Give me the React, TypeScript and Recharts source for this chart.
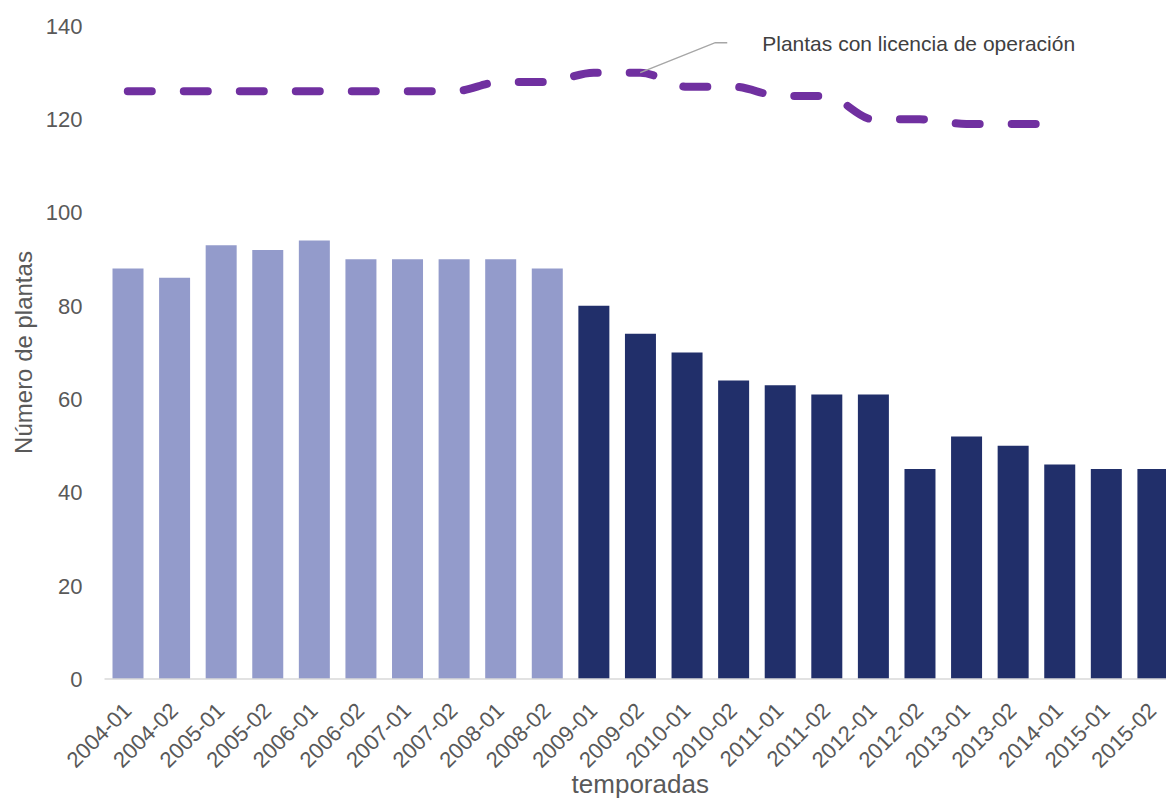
import { ComposedChart, Bar, Line, XAxis, YAxis, Cell, Label, LabelList } from 'recharts';

const SEASONS = [
  '2004-01', '2004-02', '2005-01', '2005-02', '2006-01', '2006-02', '2007-01', '2007-02',
  '2008-01', '2008-02', '2009-01', '2009-02', '2010-01', '2010-02', '2011-01', '2011-02',
  '2012-01', '2012-02', '2013-01', '2013-02', '2014-01', '2015-01', '2015-02',
];
const PLANTS = [88, 86, 93, 92, 94, 90, 90, 90, 90, 88, 80, 74, 70, 64, 63, 61, 61, 45, 52, 50, 46, 45, 45];
const LICENSED = [126, 126, 126, 126, 126, 126, 126, 126, 128, 128, 130, 130, 127, 127, 125, 125, 120, 120, 119, 119, 119, null, null];
const Y_TICKS = [0, 20, 40, 60, 80, 100, 120, 140];
const LINE_NAME = 'Plantas con licencia de operación';
const LAST_LIGHT_SEASON = '2008-02';
const CALLOUT_SEASON = '2009-02';

const FONT = "'Liberation Sans', Arial, sans-serif";
const TEXT = '#595959';
const LIGHT = '#939BCB';
const DARK = '#212F6A';
const PURPLE = '#7030A0';

const data = SEASONS.map((s, i) => ({ season: s, plants: PLANTS[i], licensed: LICENSED[i] }));
const lastLight = SEASONS.indexOf(LAST_LIGHT_SEASON);
const calloutIdx = SEASONS.indexOf(CALLOUT_SEASON);

function SeasonTick({ x, y, payload }: any) {
  return (
    <g transform={`translate(${x + 5},${y + 33})`}>
      <text textAnchor="end" transform="rotate(-45)" fontSize={22} fill={TEXT} fontFamily={FONT}>
        {payload.value}
      </text>
    </g>
  );
}

function Callout(props: any) {
  if (props.index !== calloutIdx) return null;
  const x = props.x ?? props.viewBox?.x;
  const y = props.y ?? props.viewBox?.y;
  if (x == null || y == null) return null;
  return (
    <g>
      <polyline
        points={`${x},${y} ${x + 75},${y - 30} ${x + 87},${y - 30}`}
        fill="none"
        stroke="#A6A6A6"
        strokeWidth={1.5}
      />
      <text x={x + 122} y={y - 29} dominantBaseline="central" fontSize={21} fill="#404040" fontFamily={FONT}>
        {LINE_NAME}
      </text>
    </g>
  );
}

export default function App() {
  return (
    <div style={{ position: 'absolute', left: 0, top: 0, width: 1166, height: 801, overflow: 'hidden', background: '#fff' }}>
      <style>{'body{margin:0;overflow:hidden}'}</style>
      <ComposedChart width={1200} height={801} data={data} margin={{ top: 26, right: 24, left: 0, bottom: 0 }}>
        <XAxis
          dataKey="season"
          interval={0}
          height={122}
          tickLine={false}
          tickSize={0}
          tickMargin={0}
          axisLine={{ stroke: '#D9D9D9', strokeWidth: 1.5 }}
          tick={<SeasonTick />}
        >
          <Label
            content={({ viewBox }: any) => (
              <text
                x={viewBox.x + viewBox.width / 2}
                y={viewBox.y + viewBox.height - 8}
                textAnchor="middle"
                fontSize={26}
                fill={TEXT}
                fontFamily={FONT}
              >
                temporadas
              </text>
            )}
          />
        </XAxis>
        <YAxis
          domain={[0, 140]}
          ticks={Y_TICKS}
          width={104.5}
          axisLine={false}
          tickLine={false}
          tickSize={0}
          tickMargin={22}
          tick={{ fontSize: 22, fill: TEXT, fontFamily: FONT }}
        >
          <Label
            content={({ viewBox }: any) => {
              const cx = viewBox.x + 23;
              const cy = viewBox.y + viewBox.height / 2;
              return (
                <text
                  x={cx}
                  y={cy}
                  transform={`rotate(-90, ${cx}, ${cy})`}
                  textAnchor="middle"
                  dominantBaseline="central"
                  fontSize={24}
                  fill={TEXT}
                  fontFamily={FONT}
                >
                  Número de plantas
                </text>
              );
            }}
          />
        </YAxis>
        <Bar dataKey="plants" barSize={31} isAnimationActive={false}>
          {data.map((d, i) => (
            <Cell key={d.season} fill={i <= lastLight ? LIGHT : DARK} />
          ))}
        </Bar>
        <Line
          dataKey="licensed"
          type="monotone"
          stroke={PURPLE}
          strokeWidth={8}
          strokeDasharray="24 32"
          strokeLinecap="round"
          dot={false}
          activeDot={false}
          isAnimationActive={false}
        >
          <LabelList dataKey="licensed" content={<Callout />} />
        </Line>
      </ComposedChart>
    </div>
  );
}
